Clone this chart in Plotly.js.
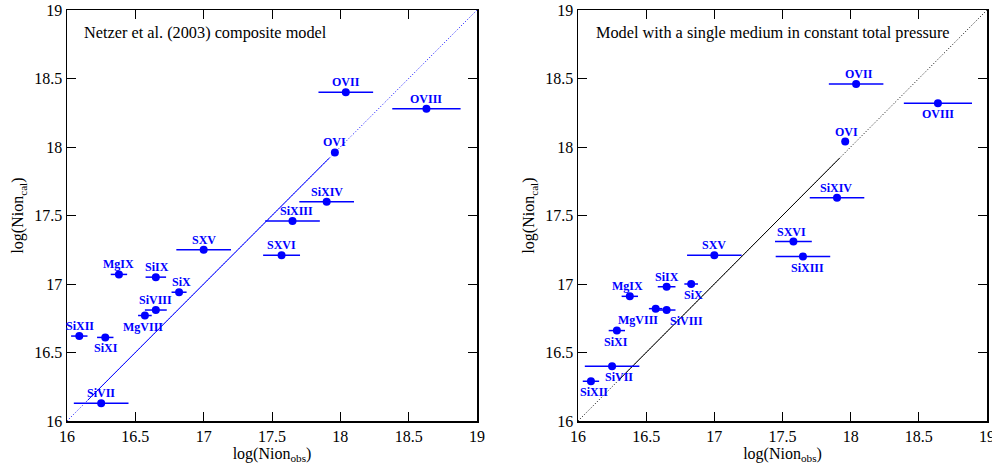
<!DOCTYPE html>
<html>
<head>
<meta charset="utf-8">
<script src="https://cdn.plot.ly/plotly-3.0.1.min.js"></script>
<style>html,body{margin:0;padding:0;background:#fff;}#plot{width:992px;height:465px;}</style>
</head>
<body>
<div id="plot"></div>
<script>
// ---- Left panel: Netzer et al. (2003) composite model ----
const leftIons  = ["SiXII","SiXI","SiVII","MgIX","SiIX","SiX","SiVIII","MgVIII","SXV","OVII","OVIII","OVI","SiXIV","SiXIII","SXVI"];
const leftObs   = [16.09, 16.28, 16.25, 16.38, 16.65, 16.82, 16.65, 16.57, 17.0, 18.04, 18.63, 17.96, 17.90, 17.65, 17.57];
const leftCal   = [16.62, 16.61, 16.13, 17.07, 17.05, 16.94, 16.81, 16.77, 17.25, 18.40, 18.28, 17.96, 17.60, 17.46, 17.21];
const leftErr   = [0.06, 0.06, 0.2, 0.06, 0.075, 0.055, 0.08, 0.05, 0.2, 0.2, 0.25, 0, 0.2, 0.2, 0.135];
const leftLabelPos = ["a","b","a","a","a","a","a","b","a","a","a","a","a","a","a"];
const leftLabelDx  = [1, 1, 0, 0, 1, 2, 0, -2, 0, 0, 0, 0, 0, 4, 0];

// ---- Right panel: single medium in constant total pressure ----
const rightIons = ["SiXII","SiVII","SiXI","MgIX","SiIX","SiX","MgVIII","SiVIII","SXV","OVII","OVIII","OVI","SiXIV","SXVI","SiXIII"];
const rightObs  = [16.095, 16.25, 16.285, 16.38, 16.65, 16.83, 16.57, 16.65, 17.0, 18.04, 18.64, 17.96, 17.90, 17.58, 17.65];
const rightCal  = [16.29, 16.40, 16.66, 16.91, 16.98, 17.00, 16.82, 16.81, 17.21, 18.46, 18.32, 18.04, 17.63, 17.31, 17.20];
const rightErr  = [0.06, 0.2, 0.06, 0.06, 0.065, 0.05, 0.05, 0.065, 0.2, 0.2, 0.25, 0, 0.2, 0.135, 0.2];
const rightLabelPos = ["b","b","b","a","a","b","b","b","a","a","b","a","a","a","b"];
const rightLabelDx  = [3, 7, -1, -2, 0, 2, -18, 20, 0, 3, 0, 1, -1, -2, 5];

// identity line (x = y), with dotted ends and solid middle
const diagEnds = [16, 19];
const leftSolid = [16.15, 17.92];
const rightSolid = [16.3, 17.92];

const BLUE = "#0000ff";
const FONT = "Liberation Serif, Times New Roman, serif";

function panel(xa, ya, obs, cal, err, lineColor, solid) {
  const t = [];
  t.push({x: diagEnds, y: diagEnds, xaxis: xa, yaxis: ya, mode: "lines",
          line: {color: lineColor, width: 1, dash: "1px,2px"}, hoverinfo: "skip"});
  t.push({x: solid, y: solid, xaxis: xa, yaxis: ya, mode: "lines",
          line: {color: lineColor, width: 1}, hoverinfo: "skip"});
  t.push({x: obs, y: cal, xaxis: xa, yaxis: ya, mode: "markers", type: "scatter",
          marker: {color: BLUE, size: 8},
          error_x: {type: "data", array: err, visible: true, color: BLUE, thickness: 1.5, width: 0}});
  return t;
}

const data = [].concat(
  panel("x", "y", leftObs, leftCal, leftErr, BLUE, leftSolid),
  panel("x2", "y2", rightObs, rightCal, rightErr, "#000000", rightSolid)
);

function labels(xr, yr, ions, obs, cal, pos, dx) {
  return ions.map((n, i) => ({
    xref: xr, yref: yr, x: obs[i], y: cal[i], text: n, showarrow: false,
    xshift: dx[i], yshift: pos[i] === "a" ? 10 : -11,
    font: {family: FONT, size: 12, color: BLUE, weight: "bold"}
  }));
}

const axBase = {
  range: [16, 19], tickvals: [16, 16.5, 17, 17.5, 18, 18.5, 19],
  ticktext: ["16", "16.5", "17", "17.5", "18", "18.5", "19"],
  showgrid: false, zeroline: false, showline: true, linecolor: "#000", linewidth: 1.5,
  mirror: "ticks", ticks: "inside", ticklen: 9, tickwidth: 1, tickcolor: "#000",
  ticklabeloverflow: "allow",
  tickfont: {family: FONT, size: 16, color: "#000"}
};
function xax(domain) {
  return Object.assign({}, axBase, {domain: domain,
    title: {text: "log(Nion<sub>obs</sub>)", font: {family: FONT, size: 16, color: "#000"}, standoff: 0}});
}
function yax(domain, anchor) {
  return Object.assign({}, axBase, {domain: domain, anchor: anchor,
    title: {text: "log(Nion<sub>cal</sub>)", font: {family: FONT, size: 16, color: "#000"}, standoff: 6}});
}

const yDom = [44/465, 455/465];
const layout = {
  width: 992, height: 465, margin: {l: 0, r: 0, t: 0, b: 0},
  paper_bgcolor: "#fff", plot_bgcolor: "#fff", showlegend: false,
  xaxis: Object.assign(xax([67/992, 477/992]), {anchor: "y"}),
  yaxis: yax(yDom, "x"),
  xaxis2: Object.assign(xax([578/992, 987/992]), {anchor: "y2"}),
  yaxis2: yax(yDom, "x2"),
  annotations: [].concat(
    labels("x", "y", leftIons, leftObs, leftCal, leftLabelPos, leftLabelDx),
    labels("x2", "y2", rightIons, rightObs, rightCal, rightLabelPos, rightLabelDx),
    [
      {xref: "x domain", yref: "y domain", x: 0.037, y: 0.946, xanchor: "left", yanchor: "middle",
       text: "Netzer et al. (2003) composite model", showarrow: false,
       font: {family: FONT, size: 16.3, color: "#000"}},
      {xref: "x2 domain", yref: "y2 domain", x: 0.039, y: 0.946, xanchor: "left", yanchor: "middle",
       text: "Model with a single medium in constant total pressure", showarrow: false,
       font: {family: FONT, size: 16.3, color: "#000"}}
    ]
  )
};

Plotly.newPlot("plot", data, layout, {staticPlot: true, displayModeBar: false});
</script>
</body>
</html>
